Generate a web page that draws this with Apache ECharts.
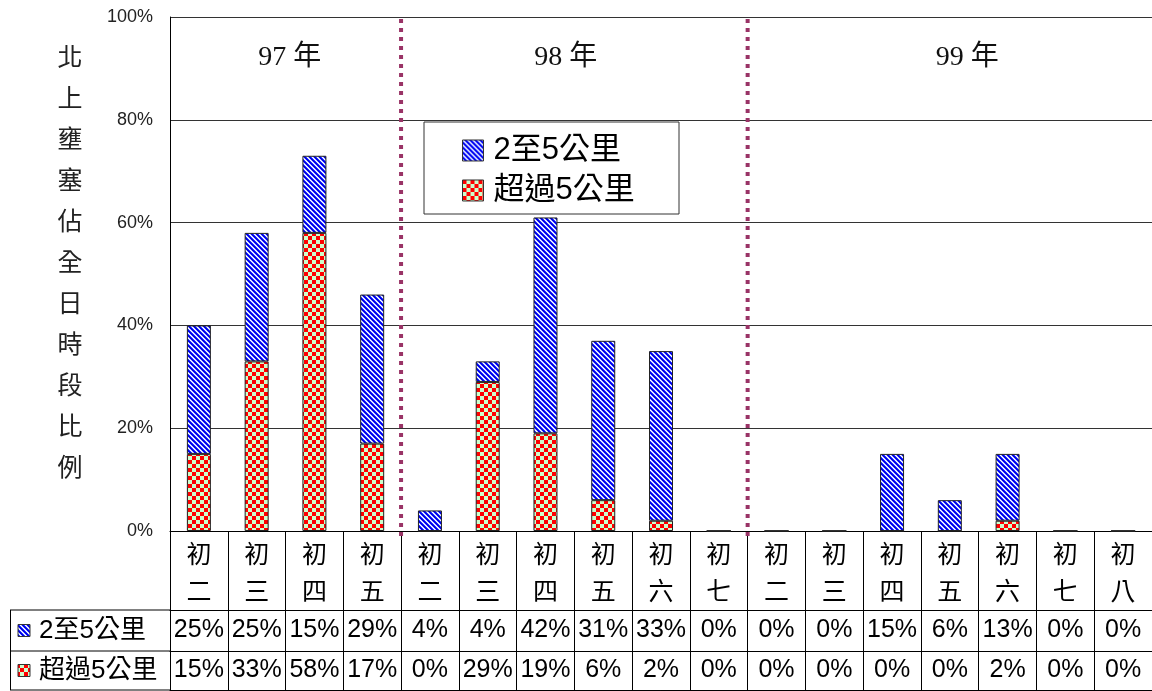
<!DOCTYPE html>
<html><head><meta charset="utf-8">
<script src="https://cdn.jsdelivr.net/npm/echarts@6/dist/echarts.min.js"></script>
<style>html,body{margin:0;padding:0;background:#fff}#c{width:1152px;height:691px}</style>
</head><body><div id="c"></div>
<script>
// ---- data ----
const categories = ['初二','初三','初四','初五','初二','初三','初四','初五','初六','初七','初二','初三','初四','初五','初六','初七','初八'];
const seriesNames = ['2至5公里', '超過5公里'];
const near5km = [25, 25, 15, 29, 4, 4, 42, 31, 33, 0, 0, 0, 15, 6, 13, 0, 0];
const over5km = [15, 33, 58, 17, 0, 29, 19, 6, 2, 0, 0, 0, 0, 0, 2, 0, 0];
const yearLabels = ['97 年', '98 年', '99 年'];
const yearPositions = [1.575, 6.35, 13.3];   // in category-index units
const yearDividers = [3.5, 9.5];              // between categories
const yTickValues = [0, 20, 40, 60, 80, 100];
const yTitle = '北上壅塞佔全日時段比例';

// ---- styles ----
const SANS = "'Liberation Sans','Noto Sans CJK TC',sans-serif";
const CJK = "'Noto Sans CJK TC',sans-serif";
const SERIF = "'Liberation Serif','Noto Sans CJK TC',serif";

function stripePattern() {
  const c = document.createElement('canvas'); c.width = 10; c.height = 10;
  const g = c.getContext('2d');
  for (let x = 0; x < 10; x++) for (let y = 0; y < 10; y++) {
    const d = ((x - y) % 5 + 5) % 5;
    g.fillStyle = d === 0 ? '#ffffff' : (d === 1 ? '#b8c4ff' : (d === 4 ? '#3344ff' : '#0000ee'));
    g.fillRect(x, y, 1, 1);
  }
  return { image: c, repeat: 'repeat' };
}
function checkerPattern() {
  const c = document.createElement('canvas'); c.width = 8; c.height = 8;
  const g = c.getContext('2d');
  for (let x = 0; x < 2; x++) for (let y = 0; y < 2; y++) {
    g.fillStyle = (x + y) % 2 === 0 ? '#ff0000' : '#ccffcc';
    g.fillRect(x * 4, y * 4, 4, 4);
  }
  return { image: c, repeat: 'repeat' };
}
const blueFill = stripePattern();
const redFill = checkerPattern();

const chart = echarts.init(document.getElementById('c'), null, { renderer: 'canvas' });
const GRID = { left: 170, top: 17, width: 983, height: 514 };

const pct = arr => (v, i) => arr[i] + '%';

chart.setOption({
  animation: false,
  backgroundColor: '#fff',
  grid: GRID,
  legend: {
    data: seriesNames, orient: 'vertical', left: 462, top: 135, padding: 0,
    itemWidth: 21, itemHeight: 21, itemGap: 9, icon: 'rect', z: 10,
    itemStyle: { borderColor: '#333', borderWidth: 1 },
    textStyle: { fontSize: 31, fontFamily: SANS, color: '#000', padding: [0, 0, 0, 5] }
  },
  xAxis: [
    { type: 'category', data: categories, gridIndex: 0, position: 'bottom',
      axisLine: { lineStyle: { color: '#000', width: 1 } },
      axisTick: { show: true, interval: 0, length: 79, lineStyle: { color: '#000' } },
      axisLabel: { interval: 0, margin: 4, fontSize: 25, lineHeight: 37, fontFamily: CJK, color: '#000',
        formatter: (v, i) => categories[i].split('').join('\n') } },
    { type: 'category', data: categories, gridIndex: 0, position: 'bottom', offset: 79,
      axisLine: { lineStyle: { color: '#000' } },
      axisTick: { show: true, interval: 0, length: 41, lineStyle: { color: '#000' } },
      axisLabel: { interval: 0, margin: 0, fontSize: 25, lineHeight: 41, fontFamily: SANS, color: '#000',
        formatter: pct(near5km) } },
    { type: 'category', data: categories, gridIndex: 0, position: 'bottom', offset: 120,
      axisLine: { lineStyle: { color: '#000' } },
      axisTick: { show: true, interval: 0, length: 39, lineStyle: { color: '#000' } },
      axisLabel: { interval: 0, margin: 0, fontSize: 25, lineHeight: 39, fontFamily: SANS, color: '#000',
        formatter: pct(over5km) } },
    { type: 'category', data: categories, gridIndex: 0, position: 'bottom', offset: 159,
      axisLine: { lineStyle: { color: '#000' } },
      axisTick: { show: false }, axisLabel: { show: false } }
  ],
  yAxis: {
    type: 'value', min: yTickValues[0], max: yTickValues[yTickValues.length - 1], interval: 20,
    axisLine: { show: true, lineStyle: { color: '#000' } },
    axisTick: { show: false },
    splitLine: { lineStyle: { color: '#333', width: 1 } },
    axisLabel: { formatter: '{value}%', fontSize: 18, fontFamily: SANS, color: '#222', margin: 17 }
  },
  series: [
    { name: seriesNames[1], type: 'bar', stack: 'a', data: over5km, barWidth: 24,
      itemStyle: { color: redFill, borderColor: '#222', borderWidth: 1 } },
    { name: seriesNames[0], type: 'bar', stack: 'a', data: near5km, barWidth: 24,
      itemStyle: { color: blueFill, borderColor: '#222', borderWidth: 1 } }
  ]
});

// ---- annotations positioned through the axis scale ----
const x0 = chart.convertToPixel({ xAxisIndex: 0 }, 0);
const band = chart.convertToPixel({ xAxisIndex: 0 }, 1) - x0;
const posX = f => x0 + f * band;
const yTop = chart.convertToPixel({ yAxisIndex: 0 }, 100);
const yBot = chart.convertToPixel({ yAxisIndex: 0 }, 0);

const g = [];
yearDividers.forEach(f => g.push({
  type: 'line', z: 20, shape: { x1: posX(f), y1: yTop + 2, x2: posX(f), y2: yBot + 7 },
  style: { stroke: '#993366', lineWidth: 4, lineDash: [4, 5] }
}));
yearLabels.forEach((t, i) => g.push({
  type: 'text', z: 20, x: posX(yearPositions[i]), y: 58,
  style: { text: t, fontSize: 28, fontFamily: SERIF, fill: '#111', align: 'center', verticalAlign: 'middle' }
}));
g.push({
  type: 'text', z: 20, x: 70, y: 35.5,
  style: { text: yTitle.split('').join('\n'), fontSize: 25, lineHeight: 41, fontFamily: CJK, fill: '#222',
    align: 'center', verticalAlign: 'top' }
});
// legend frame
g.push({ type: 'rect', z: 3, shape: { x: 424, y: 122, width: 255, height: 92 },
  style: { fill: '#fff', stroke: '#333', lineWidth: 1 } });
// data-table row-header column
const tblRows = [610, 651, 690];
tblRows.forEach(y => g.push({ type: 'line', z: 5, shape: { x1: 10, y1: y, x2: GRID.left, y2: y },
  style: { stroke: '#000', lineWidth: 1 } }));
g.push({ type: 'line', z: 5, shape: { x1: 10.5, y1: 610, x2: 10.5, y2: 690 }, style: { stroke: '#000', lineWidth: 1 } });
const fills = [blueFill, redFill];
seriesNames.forEach((n, i) => {
  const cy = (tblRows[i] + tblRows[i + 1]) / 2;
  g.push({ type: 'rect', z: 5, shape: { x: 18, y: cy - 6, width: 12, height: 12 },
    style: { fill: fills[i], stroke: '#333', lineWidth: 1 } });
  g.push({ type: 'text', z: 5, x: 39, y: cy,
    style: { text: n, fontSize: 26, fontFamily: SANS, fill: '#000', align: 'left', verticalAlign: 'middle' } });
});
chart.setOption({ graphic: { elements: g } });
</script>
</body></html>
